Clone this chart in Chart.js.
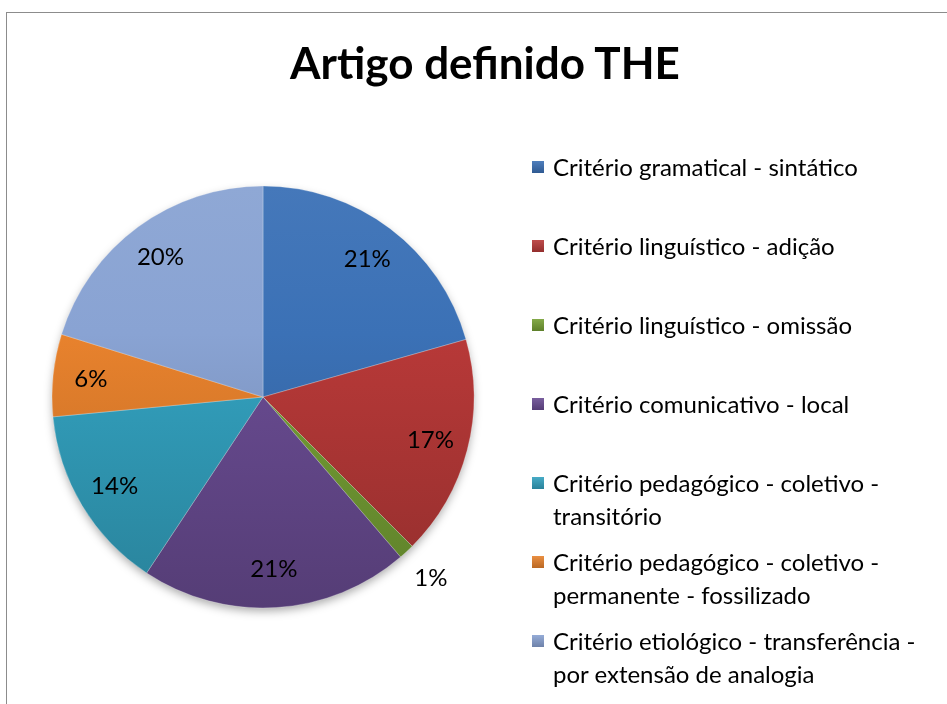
<!DOCTYPE html>
<html>
<head>
<meta charset="utf-8">
<script src="https://cdn.jsdelivr.net/npm/chart.js@4"></script>
<style>
    html, body { margin: 0; padding: 0; background: #fff; overflow: hidden; }
    #frame { position: absolute; left: 6px; top: 12px; width: 1000px; height: 800px; border: 1px solid #8c8c8c; box-sizing: border-box; }
    #wrap { position: absolute; left: 0; top: 0; width: 947px; height: 704px; }
    #title { position: absolute; left: 6px; top: 34px; width: 958px; text-align: center; font-family: Lato, sans-serif; font-weight: bold; font-size: 44px; line-height: 56px; color: #000; }
    #legend { position: absolute; left: 532px; top: 150px; width: 400px; font-family: Lato, sans-serif; font-size: 24px; color: #000; }
    .legend-item { display: flex; align-items: flex-start; height: 79px; line-height: 33px; }
    .legend-box { width: 12px; height: 12px; margin: 11px 9px 0 0; flex: none; }
    .legend-text { width: 378px; }
</style>
</head>
<body>
<div id="frame"></div>
<div id="wrap"><canvas id="pieChart" width="947" height="704"></canvas></div>
<div id="title"></div>
<div id="legend"></div>
<script>
const title = 'Artigo definido THE';
const labels = [
    'Critério gramatical - sintático',
    'Critério linguístico - adição',
    'Critério linguístico - omissão',
    'Critério comunicativo - local',
    'Critério pedagógico - coletivo - transitório',
    'Critério pedagógico - coletivo - permanente - fossilizado',
    'Critério etiológico - transferência - por extensão de analogia'
];
const values = [20.6, 16.9, 1.2, 20.6, 14.2, 6.3, 20.2];
const colors = ['#3b71b6', '#b83938', '#76a035', '#6a4c93', '#33a2c0', '#e8822d', '#89a3d3'];

const total = values.reduce((a, b) => a + b, 0);

function shade(hex, f) {
    const n = parseInt(hex.slice(1), 16);
    let r = (n >> 16) & 255, g = (n >> 8) & 255, b = n & 255;
    if (f >= 1) {
        r = r + (255 - r) * (f - 1); g = g + (255 - g) * (f - 1); b = b + (255 - b) * (f - 1);
    } else {
        r *= f; g *= f; b *= f;
    }
    return `rgb(${Math.round(r)}, ${Math.round(g)}, ${Math.round(b)})`;
}

function sliceFill(context) {
    const chart = context.chart;
    const base = colors[context.dataIndex];
    const area = chart.chartArea;
    if (!area) return base;
    const cy = (area.top + area.bottom) / 2;
    const grad = chart.ctx.createLinearGradient(0, cy - 211, 0, cy + 211);
    grad.addColorStop(0, shade(base, 1.05));
    grad.addColorStop(0.35, base);
    grad.addColorStop(1, shade(base, 0.8));
    return grad;
}

// soft shadow behind the pie
const pieShadow = {
    id: 'pieShadow',
    beforeDatasetsDraw(chart) {
        const arc = chart.getDatasetMeta(0).data[0];
        if (!arc) return;
        const { x, y, outerRadius } = arc.getProps(['x', 'y', 'outerRadius'], true);
        const ctx = chart.ctx;
        ctx.save();
        ctx.shadowColor = 'rgba(0,0,0,0.35)';
        ctx.shadowBlur = 10;
        ctx.shadowOffsetY = 4;
        ctx.beginPath();
        ctx.arc(x, y, outerRadius - 1, 0, Math.PI * 2);
        ctx.fillStyle = '#888';
        ctx.fill();
        ctx.restore();
    }
};

// percentage labels
const sliceLabels = {
    id: 'sliceLabels',
    afterDatasetsDraw(chart) {
        const ctx = chart.ctx;
        const meta = chart.getDatasetMeta(0);
        ctx.save();
        ctx.font = '24px Lato, sans-serif';
        ctx.fillStyle = '#000';
        ctx.textAlign = 'center';
        ctx.textBaseline = 'middle';
        meta.data.forEach((arc, i) => {
            const p = arc.getProps(['x', 'y', 'startAngle', 'endAngle', 'outerRadius'], true);
            const mid = (p.startAngle + p.endAngle) / 2;
            const pct = Math.round(values[i] / total * 100);
            const r = pct < 3 ? p.outerRadius * 1.17 : p.outerRadius * 0.82;
            ctx.fillText(pct + '%', p.x + Math.cos(mid) * r, p.y + Math.sin(mid) * r);
        });
        ctx.restore();
    }
};

new Chart(document.getElementById('pieChart'), {
    type: 'pie',
    data: {
        labels: labels,
        datasets: [{
            data: values,
            backgroundColor: sliceFill,
            borderColor: 'rgba(255,255,255,0.25)',
            borderWidth: 1,
            radius: 211
        }]
    },
    options: {
        responsive: false,
        animation: false,
        layout: { padding: { left: 0, right: 421, top: 96, bottom: 6 } },
        plugins: {
            legend: { display: false },
            tooltip: { enabled: false },
            title: { display: false }
        }
    },
    plugins: [pieShadow, sliceLabels]
});

document.getElementById('title').textContent = title;

// legend as html so long entries wrap like the original
const legend = document.getElementById('legend');
labels.forEach((label, i) => {
    const item = document.createElement('div');
    item.className = 'legend-item';
    const box = document.createElement('span');
    box.className = 'legend-box';
    box.style.background = `linear-gradient(${shade(colors[i], 1.1)}, ${shade(colors[i], 0.8)})`;
    const text = document.createElement('span');
    text.className = 'legend-text';
    text.textContent = label;
    item.append(box, text);
    legend.appendChild(item);
});
</script>
</body>
</html>
